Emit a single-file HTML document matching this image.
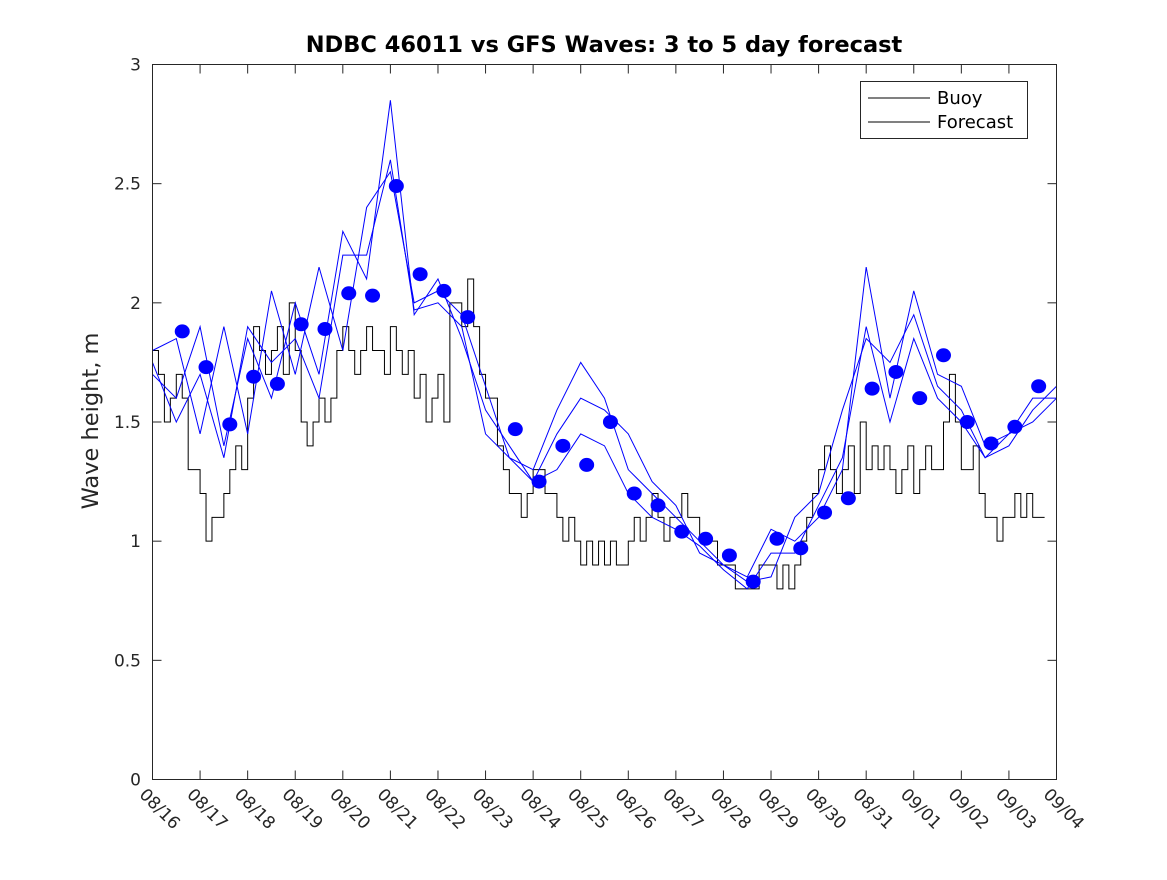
<!DOCTYPE html>
<html><head><meta charset="utf-8"><style>
body{margin:0;background:#fff;}
svg text{font-family:"DejaVu Sans","Liberation Sans",sans-serif;fill:#262626;}
</style></head><body>
<svg id="chart" width="1167" height="875" viewBox="0 0 1167 875">
<rect x="0" y="0" width="1167" height="875" fill="#fff"/>
<text x="604" y="52" text-anchor="middle" font-size="22.5" font-weight="bold" style="fill:#000">NDBC 46011 vs GFS Waves: 3 to 5 day forecast</text>
<text transform="translate(98,421) rotate(-90)" text-anchor="middle" font-size="22.5">Wave height, m</text>
<g id="axes"></g>
<g id="series"></g>
<rect x="152.5" y="64.5" width="904" height="715" fill="none" stroke="#262626" stroke-width="1"/>
<g>
<rect x="860.5" y="81.5" width="167" height="57" fill="#fff" stroke="#262626"/>
<line x1="868" y1="98" x2="930" y2="98" stroke="#000"/>
<text x="937" y="104" font-size="18" style="fill:#000">Buoy</text>
<line x1="868" y1="122" x2="930" y2="122" stroke="#000"/>
<text x="937" y="128" font-size="18" style="fill:#000">Forecast</text>
</g>
</svg>
<script>
const xTickLabels=["08/16","08/17","08/18","08/19","08/20","08/21","08/22","08/23","08/24","08/25","08/26","08/27","08/28","08/29","08/30","08/31","09/01","09/02","09/03","09/04"];
const yTicks=[0,0.5,1,1.5,2,2.5,3];
const yTickLabels=["0","0.5","1","1.5","2","2.5","3"];
const buoy=[1.8,1.7,1.5,1.6,1.7,1.6,1.3,1.3, 1.2,1.0,1.1,1.1,1.2,1.3,1.4,1.3, 1.6,1.9,1.8,1.7,1.8,1.9,1.7,2.0,
1.8,1.5,1.4,1.5,1.6,1.5,1.6,1.8, 1.9,1.8,1.7,1.8,1.9,1.8,1.8,1.7, 1.9,1.8,1.7,1.8,1.6,1.7,1.5,1.6,
1.7,1.5,2.0,2.0,1.9,2.1,1.9,1.7, 1.6,1.6,1.4,1.3,1.2,1.2,1.1,1.2, 1.3,1.3,1.2,1.2,1.1,1.0,1.1,1.0,
0.9,1.0,0.9,1.0,0.9,1.0,0.9,0.9, 1.0,1.1,1.0,1.1,1.2,1.1,1.0,1.1, 1.1,1.2,1.1,1.1,1.0,1.0,1.0,0.9,
0.9,0.9,0.8,0.8,0.8,0.8,0.9,0.9, 0.9,0.8,0.9,0.8,0.9,1.0,1.1,1.2, 1.3,1.4,1.3,1.2,1.3,1.4,1.2,1.5,
1.3,1.4,1.3,1.4,1.3,1.2,1.3,1.4, 1.2,1.3,1.4,1.3,1.3,1.5,1.7,1.5, 1.3,1.3,1.4,1.2,1.1,1.1,1.0,1.1,
1.1,1.2,1.1,1.2,1.1,1.1];
const fcA=[1.8,1.85,1.45,1.9,1.45,2.05,1.7,2.15,1.8,2.4,2.55,2.0,2.05,1.95,1.65,1.35,1.3,1.55,1.75,1.6,1.3,1.2,1.1,1.0,0.9,0.85,1.05,1.0,1.1,1.3,2.15,1.6,2.05,1.7,1.65,1.4,1.45,1.6,1.6];
const fcB=[1.7,1.6,1.9,1.4,1.85,1.6,2.0,1.7,2.3,2.1,2.85,1.95,2.1,1.85,1.55,1.4,1.25,1.45,1.6,1.55,1.45,1.25,1.15,0.95,0.9,0.83,0.85,1.1,1.2,1.55,1.85,1.75,1.95,1.65,1.55,1.35,1.4,1.55,1.65];
const fcC=[1.75,1.5,1.7,1.35,1.9,1.75,1.85,1.6,2.2,2.2,2.6,1.97,2.0,1.9,1.45,1.35,1.25,1.3,1.45,1.4,1.2,1.1,1.05,0.98,0.88,0.8,0.95,0.95,1.15,1.35,1.9,1.5,1.85,1.6,1.5,1.35,1.45,1.5,1.6];
const dots=[1.88,1.73,1.49,1.69,1.66,1.91,1.89,2.04,2.03,2.49,2.12,2.05,1.94,null,1.47,1.25,1.40,1.32,1.50,1.20,1.15,1.04,1.01,0.94,0.83,1.01,0.97,1.12,1.18,1.64,1.71,1.60,1.78,1.50,1.41,1.48,1.65];

const X0=152.5,X1=1056.5,Y0=779.5,Y1=64.5;
function xs(d){return X0+(X1-X0)*d/19;}
function ys(v){return Y0-(Y0-Y1)*v/3;}
const NS="http://www.w3.org/2000/svg";
const axes=document.getElementById('axes'),series=document.getElementById('series');
function mk(tag,attrs,parent){const e=document.createElementNS(NS,tag);for(const k in attrs)e.setAttribute(k,attrs[k]);parent.appendChild(e);return e;}

xTickLabels.forEach((lab,i)=>{
  const x=xs(i);
  const t1=mk('line',{x1:x,y1:Y0,x2:x,y2:Y0-9,stroke:'#262626'},axes);
  
  
  const t2=mk('line',{x1:x,y1:Y1,x2:x,y2:Y1+9,stroke:'#262626'},axes);
  
  
  const tx=mk('text',{x:0,y:0,'font-size':17,transform:`translate(${x-14},${Y0+16}) rotate(45)`},axes);
  tx.textContent=lab;
  
  
});
yTicks.forEach((v,i)=>{
  const y=ys(v);
  const t1=mk('line',{x1:X0,y1:y,x2:X0+9,y2:y,stroke:'#262626'},axes);
  
  
  const t2=mk('line',{x1:X1,y1:y,x2:X1-9,y2:y,stroke:'#262626'},axes);
  
  
  const tx=mk('text',{x:141,y:y+6,'text-anchor':'end','font-size':17},axes);
  tx.textContent=yTickLabels[i];
  
  
});

let d='';
buoy.forEach((v,i)=>{const x=xs(i/8),y=ys(v);d+=(i?`H${x}V${y}`:`M${x},${y}`);});
d+=`H${xs(buoy.length/8)}`;
const bl=mk('path',{d:d,fill:'none',stroke:'#000','stroke-width':1},series);



[fcA,fcB,fcC].forEach((arr,k)=>{
  const p=arr.map((v,i)=>`${i?'L':'M'}${xs(i*0.5)},${ys(v)}`).join('');
  const l=mk('path',{d:p,fill:'none',stroke:'#0000ff','stroke-width':1},series);
  
  
});

dots.forEach((v,i)=>{
  if(v===null)return;
  const c=mk('ellipse',{cx:xs(0.625+0.5*i),cy:ys(v),rx:7.5,ry:7,fill:'#0000ff'},series);
  
  
});
</script>
</body></html>
